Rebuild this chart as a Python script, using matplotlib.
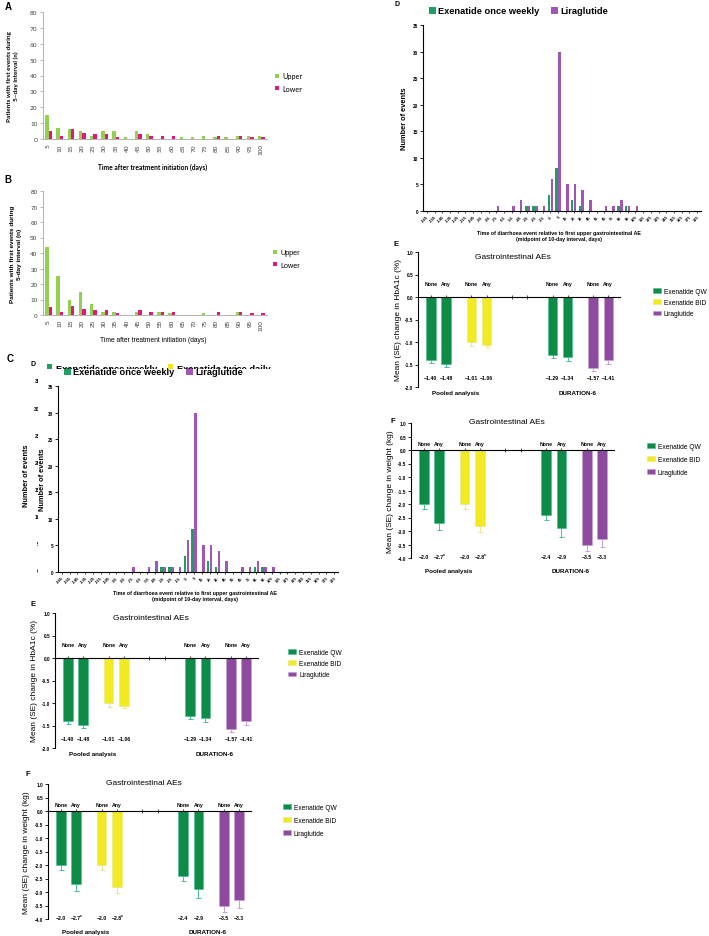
import matplotlib
matplotlib.use("Agg")
import matplotlib.pyplot as plt
import numpy as np
from matplotlib.patches import Patch, Rectangle
from matplotlib.transforms import Bbox

W, H = 709, 937

# ---- A / B: first GI events per 5-day interval ----
DAYS = list(range(5, 101, 5))
A_UPPER = [15, 7, 6, 5, 2, 5, 5, 1, 5, 3, 0, 0, 1, 1, 2, 1, 1, 2, 2, 2]
A_LOWER = [5, 2, 6, 4, 3, 3, 1, 0, 3, 2, 2, 2, 0, 0, 0, 2, 0, 2, 1, 1]
B_UPPER = [44, 25, 10, 15, 7, 2, 2, 0, 2, 0, 2, 1, 0, 0, 1, 0, 0, 2, 0, 0]
B_LOWER = [5, 2, 6, 4, 3, 3, 1, 0, 3, 2, 2, 2, 0, 0, 0, 2, 0, 2, 1, 1]

# ---- D: diarrhoea events relative to first upper GI AE ----
D_DAYS = list(range(-165, 186, 10))
D_QW = [0, 0, 0, 0, 0, 0, 0, 0, 0, 0,
        0, 0, 0, 1, 1, 0, 3, 8, 0, 2,
        1, 0, 0, 0, 0, 1, 1, 0, 0, 0,
        0, 0, 0, 0, 0, 0]
D_LIRA = [0, 0, 0, 0, 0, 0, 0, 0, 0, 1,
          0, 1, 2, 1, 1, 1, 6, 30, 5, 5,
          4, 2, 0, 1, 1, 2, 1, 1, 0, 0,
          0, 0, 0, 0, 0, 0]

# ---- E / F: HbA1c and weight change by GI AE status ----
AE_STATUS = ["None", "Any"]
TREATMENTS = ["Exenatide QW", "Exenatide BID", "Liraglutide"]
GROUP_TREAT = [0, 1, 0, 2]          # treatment of each bar pair
STUDIES = ["Pooled analysis", "DURATION-6"]
HBA1C = [[-1.40, -1.48], [-1.01, -1.06], [-1.29, -1.34], [-1.57, -1.41]]
HBA1C_SE = [[0.06, 0.08], [0.07, 0.06], [0.07, 0.09], [0.07, 0.08]]
HBA1C_MARK = [["", ""], ["", ""], ["", ""], ["", ""]]
WEIGHT = [[-2.0, -2.7], [-2.0, -2.8], [-2.4, -2.9], [-3.5, -3.3]]
WEIGHT_SE = [[0.18, 0.28], [0.20, 0.23], [0.18, 0.32], [0.25, 0.28]]
WEIGHT_MARK = [["", "*"], ["", "*"], ["", ""], ["", ""]]

UPPER_GREEN = "#92D050"
LOWER_PINK = "#E2197A"
D_GREEN = "#1E9E63"
D_YELLOW = "#F2E61C"
D_PURPLE = "#A056B4"
FILL = ["#0F8B48", "#F2EA22", "#8D4B9F"]
EDGE = ["#46BF98", "#E9E68A", "#C7A0D4"]

plt.rcParams["font.family"] = ["Liberation Sans", "DejaVu Sans"]
fig = plt.figure(figsize=(W / 100, H / 100), dpi=100)


def add_ax(l, t, r, b):
    return fig.add_axes([l / W, 1 - b / H, (r - l) / W, (b - t) / H])


def ftext(x, y, s, **kw):
    kw.setdefault("ha", "center")
    kw.setdefault("va", "center")
    return fig.text(x / W, 1 - y / H, s, **kw)


def clip_px(artist, x0, y0, x1, y1):
    artist.set_clip_box(Bbox.from_extents(x0, H - y1, x1, H - y0))
    artist.set_clip_on(True)


def onset_panel(box, upper, lower, family, ylabel, ylabel_x, xlabel, xlabel_y,
                bold, leg_xy):
    ax = add_ax(*box)
    idx = np.arange(len(DAYS))
    ax.bar(idx - 0.15, upper, 0.3, color=UPPER_GREEN, label="Upper")
    ax.bar(idx + 0.15, lower, 0.3, color=LOWER_PINK, label="Lower")
    ax.set_xlim(-0.5, len(DAYS) - 0.5)
    ax.set_ylim(0, 80)
    ax.set_yticks(range(0, 81, 10))
    ax.set_xticks(idx)
    ax.set_xticklabels([str(d) for d in DAYS], rotation=90)
    ax.tick_params(axis="y", labelsize=4.6, length=2, width=0.5, color="#A0A0A0",
                   labelcolor="#404040", pad=2)
    ax.tick_params(axis="x", labelsize=4.6, length=0, labelcolor="#404040", pad=3)
    for t in ax.get_xticklabels() + ax.get_yticklabels():
        t.set_family(family)
    for s in ("top", "right"):
        ax.spines[s].set_visible(False)
    for s in ("left", "bottom"):
        ax.spines[s].set_color("#A6A6A6")
        ax.spines[s].set_linewidth(0.6)
    w = "bold" if bold else "normal"
    ftext(ylabel_x, (box[1] + box[3]) / 2, ylabel, rotation=90, fontsize=4.6,
          fontweight="bold", family=family, linespacing=1.3)
    ftext((box[0] + box[2]) / 2 - 2, xlabel_y, xlabel, fontsize=4.8,
          fontweight=w, family=family)
    ax.legend(loc="center left", bbox_to_anchor=(leg_xy[0] / W, 1 - leg_xy[1] / H),
              bbox_transform=fig.transFigure, frameon=False, borderpad=0,
              borderaxespad=0, handlelength=0.55, handleheight=0.55,
              handletextpad=0.5, labelspacing=0.75,
              prop={"family": family, "size": 5.2})
    return ax


def events_panel(box, leg_xy, ylabel_x, xlabel_y):
    ax = add_ax(*box)
    idx = np.arange(len(D_DAYS))
    ax.bar(idx - 0.19, D_QW, 0.33, color=D_GREEN, label="Exenatide once weekly")
    ax.bar(idx + 0.19, D_LIRA, 0.33, color=D_PURPLE, label="Liraglutide")
    ax.set_xlim(-0.5, len(D_DAYS) - 0.5)
    ax.set_ylim(0, 35)
    ax.set_yticks(range(0, 36, 5))
    ax.set_xticks(idx)
    ax.set_xticklabels([str(d) for d in D_DAYS], rotation=45, ha="right",
                       rotation_mode="anchor", fontsize=2.9, fontweight="bold")
    ax.tick_params(axis="x", length=1.5, width=0.5, pad=1)
    ax.tick_params(axis="y", length=2, width=0.6, pad=1.5, labelsize=3.4)
    for t in ax.get_yticklabels():
        t.set_fontweight("bold")
    for s in ("top", "right"):
        ax.spines[s].set_visible(False)
    for s in ("left", "bottom"):
        ax.spines[s].set_linewidth(0.8)
    ftext(ylabel_x, (box[1] + box[3]) / 2, "Number of events", rotation=90,
          fontsize=5.3, fontweight="bold")
    ftext((box[0] + box[2]) / 2 - 3, xlabel_y,
          "Time of diarrhoea event relative to first upper gastrointestinal AE\n"
          "(midpoint of 10-day interval, days)",
          fontsize=3.8, fontweight="bold", linespacing=1.25)
    # white legend box: in panel C it hides the lower half of the covered row
    leg = ax.legend(loc="center left",
                    bbox_to_anchor=(leg_xy[0] / W, 1 - leg_xy[1] / H),
                    bbox_transform=fig.transFigure, ncol=2, frameon=True,
                    facecolor="white", edgecolor="none", framealpha=1,
                    fancybox=False, borderpad=0.1, borderaxespad=0,
                    handlelength=0.75, handleheight=0.75, handletextpad=0.25,
                    columnspacing=1.2, prop={"size": 6.7, "weight": "bold"})
    leg.set_zorder(5)
    return ax


SLOTS = [0, 1, 3, 4]   # slot 2 is an empty pair in the original
GAP = 2.68
BAR_W = 0.62


def ae_panel(box, values, errs, marks, ymin, ystep, ylabel, ylabel_x, fmt,
             noneany_y, value_y, study_y, title_y, leg_xy, leg_space):
    ax = add_ax(*box)
    for g, slot in enumerate(SLOTS):
        tr = GROUP_TREAT[g]
        for k in range(2):
            x = slot * GAP + k
            v = values[g][k]
            ax.bar(x, v, BAR_W, color=FILL[tr], edgecolor=EDGE[tr], linewidth=0.4,
                   zorder=2)
            ax.errorbar(x, v, yerr=[[errs[g][k]], [0]], fmt="none", ecolor=EDGE[tr],
                        elinewidth=0.7, capsize=1.8, capthick=0.7, zorder=3)
            ax.text(x, noneany_y, AE_STATUS[k], ha="center", va="center",
                    fontsize=3.7, fontweight="bold")
            ax.text(x, value_y, "\u2212" + format(abs(v), fmt), ha="center",
                    va="center", fontsize=3.7, fontweight="bold")
            if marks[g][k]:
                ax.annotate(marks[g][k], (x, value_y), xytext=(3.6, 1.2),
                            textcoords="offset points", ha="center", va="center",
                            fontsize=3.3, fontweight="bold")
    ticks = [s * GAP + k for s in range(5) for k in range(2)]
    ax.set_xticks(ticks)
    ax.set_xticklabels([])
    ax.set_xlim(-0.85, 12.5)
    ax.set_ylim(ymin, 1.0)
    yt = np.arange(ymin, 1.0001, ystep)
    ax.set_yticks(yt)
    ax.set_yticklabels([f"{t:.1f}".replace("-0.0", "0.0") for t in yt])
    ax.spines["bottom"].set_position(("data", 0))
    ax.spines["bottom"].set_linewidth(0.8)
    ax.spines["left"].set_linewidth(0.8)
    for s in ("top", "right"):
        ax.spines[s].set_visible(False)
    ax.tick_params(axis="x", direction="inout", length=2.5, width=0.5)
    ax.tick_params(axis="y", length=2, width=0.6, pad=1.5, labelsize=3.4)
    for t in ax.get_yticklabels():
        t.set_fontweight("bold")
    pooled = (0 + GAP + 1) / 2 - 0.2
    dur = (3 * GAP + 4 * GAP + 1) / 2 - 0.2
    for cx, name in zip((pooled, dur), STUDIES):
        ax.text(cx, study_y, name, ha="center", va="center", fontsize=4.5,
                fontweight="bold", clip_on=False)
    ax.text(5.45, title_y, "Gastrointestinal AEs", ha="center", va="center",
            fontsize=6)
    ftext(ylabel_x, (box[1] + box[3]) / 2, ylabel, rotation=90, fontsize=6)
    handles = [Patch(facecolor=FILL[i], edgecolor=EDGE[i], linewidth=0.4)
               for i in range(3)]
    ax.legend(handles, TREATMENTS, loc="upper left",
              bbox_to_anchor=(leg_xy[0] / W, 1 - leg_xy[1] / H),
              bbox_transform=fig.transFigure, frameon=False, borderpad=0,
              borderaxespad=0, handlelength=1.2, handleheight=0.7,
              handletextpad=0.45, labelspacing=leg_space, fontsize=4.8)
    return ax


# ---------------- panel A and B ----------------
ftext(8, 7, "A", fontsize=7, fontweight="bold")
onset_panel((43, 13, 267, 140), A_UPPER, A_LOWER, "Lato",
            "Patients with first events during\n5\u2013day interval (n)", 13,
            "Time after treatment initiation (days)", 167, True, (275, 83))
ftext(8, 180, "B", fontsize=7, fontweight="bold")
onset_panel((43, 192, 267, 316), B_UPPER, B_LOWER, "Liberation Sans",
            "Patients with first events during\n5-day interval (n)", 16,
            "Time after treatment initiation (days)", 341, False, (273, 260))

# ---------------- panel C with the overlaid D ----------------
ftext(10, 359, "C", fontsize=7, fontweight="bold")
ftext(33, 365, "D", fontsize=5, fontweight="bold")
# remnants of the covered panel: clipped legend row, tick labels and axis title
for x_sq, x_tx, col, name in ((47, 56, D_GREEN, "Exenatide once weekly"),
                              (168, 177, D_YELLOW, "Exenatide twice daily")):
    sq = Rectangle(((x_sq) / W, 1 - 372 / H), 5 / W, 7 / H, transform=fig.transFigure,
                   facecolor=col, edgecolor="none")
    fig.patches.append(sq)
    clip_px(sq, 0, 300, W, 369.5)
    t = ftext(x_tx, 369, name, ha="left", fontsize=6.7, fontweight="bold")
    clip_px(t, 0, 300, W, 369.5)
for v in range(0, 36, 5):
    t = ftext(40, 572 - v * 5.43, str(v), ha="right", fontsize=3.6,
              fontweight="bold")
    clip_px(t, 0, 360, 38, 600)
ftext(27, 476, "Number of events", rotation=90, fontsize=5.3, fontweight="bold")
events_panel((58, 387, 338, 573), (63, 373), 42, 596)

# ---------------- panel D (right) ----------------
ftext(397, 5, "D", fontsize=5, fontweight="bold")
events_panel((423, 26, 701, 212), (428, 12), 405, 236)

# ---------------- panels E and F ----------------
ftext(396, 245, "E", fontsize=5.5, fontweight="bold")
ae_panel((418, 253, 620, 388), HBA1C, HBA1C_SE, HBA1C_MARK, -2.0, 0.5,
         "Mean (SE) change in HbA1c (%)", 399, ".2f", 0.31, -1.78, -2.12, 0.91,
         (653, 289), 0.62)
ftext(393, 422, "F", fontsize=5.5, fontweight="bold")
ae_panel((411, 424, 614, 559), WEIGHT, WEIGHT_SE, WEIGHT_MARK, -4.0, 0.5,
         "Mean (SE) change in weight (kg)", 391, ".1f", 0.23, -3.95, -4.48, 1.04,
         (647, 444), 0.9)
ftext(33, 605, "E", fontsize=5.5, fontweight="bold")
ae_panel((55, 614, 258, 749), HBA1C, HBA1C_SE, HBA1C_MARK, -2.0, 0.5,
         "Mean (SE) change in HbA1c (%)", 35, ".2f", 0.31, -1.78, -2.12, 0.91,
         (288, 650), 0.62)
ftext(28, 775, "F", fontsize=5.5, fontweight="bold")
ae_panel((48, 785, 251, 920), WEIGHT, WEIGHT_SE, WEIGHT_MARK, -4.0, 0.5,
         "Mean (SE) change in weight (kg)", 27, ".1f", 0.23, -3.95, -4.48, 1.04,
         (283, 805), 0.9)

fig.savefig("out.png", dpi=100)
